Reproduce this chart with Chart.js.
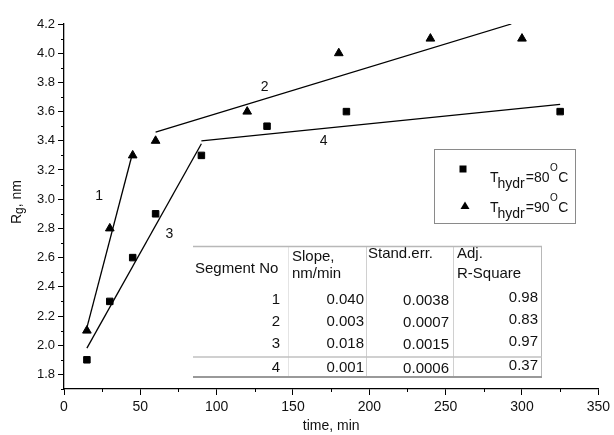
<!DOCTYPE html>
<html>
<head>
<meta charset="utf-8">
<script src="https://cdn.jsdelivr.net/npm/chart.js@4/dist/chart.umd.min.js"></script>
<style>
  html, body { margin: 0; padding: 0; background: #fff; }
  canvas { display: block; }
</style>
</head>
<body>
<canvas id="rgChart" width="614" height="435"></canvas>
<script>
// measured radius of gyration vs hydrolysis time
const time80 = [15, 30, 45, 60, 90, 133, 185, 325];
const rg80 = [1.9, 2.3, 2.6, 2.9, 3.3, 3.5, 3.6, 3.6];
const time90 = [15, 30, 45, 60, 120, 180, 240, 300];
const rg90 = [2.1, 2.8, 3.3, 3.4, 3.6, 4.0, 4.1, 4.1];

// linear fit segments 1..4 (start / end)
const segTime = [[15, 45], [60, 293], [15, 90], [90, 325]];
const segRg = [[2.12, 3.32], [3.46, 4.2], [1.98, 3.38], [3.40, 3.65]];
// where each segment number is written (time, Rg)
const segLabelTime = [23, 131.5, 69, 170];
const segLabelRg = [3.02, 3.77, 2.76, 3.40];

// fit statistics table
const segmentNo = [1, 2, 3, 4];
const slope = [0.040, 0.003, 0.018, 0.001];
const standErr = [0.0038, 0.0007, 0.0015, 0.0006];
const adjR2 = [0.98, 0.83, 0.97, 0.37];

// axis ticks
const timeTicks = [0, 50, 100, 150, 200, 250, 300, 350];
const rgTicks = [1.8, 2.0, 2.2, 2.4, 2.6, 2.8, 3.0, 3.2, 3.4, 3.6, 3.8, 4.0, 4.2];
const timeMinor = [25, 75, 125, 175, 225, 275, 325];
const rgMinor = [1.7, 1.9, 2.1, 2.3, 2.5, 2.7, 2.9, 3.1, 3.3, 3.5, 3.7, 3.9, 4.1];

const FONT = '"Liberation Sans", Arial, sans-serif';
const INK = '#111';

function toPoints(xs, ys) {
  return xs.map((x, i) => ({ x: x, y: ys[i] }));
}

const fitSets = segTime.map((xs, i) => ({
  type: 'line',
  data: toPoints(xs, segRg[i]),
  borderColor: '#000',
  borderWidth: 1.3,
  pointRadius: 0,
  fill: false,
}));

function fixTicks(values) {
  return (scale) => {
    scale.ticks = values.map((v) => ({ value: v }));
  };
}

const extras = {
  id: 'extras',
  afterDraw(chart) {
    const ctx = chart.ctx;
    const xs = chart.scales.x;
    const ys = chart.scales.y;
    const area = chart.chartArea;
    ctx.save();

    // minor ticks
    ctx.strokeStyle = '#000';
    ctx.lineWidth = 1;
    ctx.beginPath();
    timeMinor.forEach((v) => {
      const px = Math.round(xs.getPixelForValue(v)) + 0.5;
      ctx.moveTo(px, area.bottom);
      ctx.lineTo(px, area.bottom + 3);
    });
    rgMinor.forEach((v) => {
      const py = Math.round(ys.getPixelForValue(v)) + 0.5;
      ctx.moveTo(area.left, py);
      ctx.lineTo(area.left - 3, py);
    });
    ctx.stroke();

    // segment numbers
    ctx.fillStyle = INK;
    ctx.font = '14px ' + FONT;
    ctx.textAlign = 'center';
    ctx.textBaseline = 'middle';
    segLabelTime.forEach((t, i) => {
      ctx.fillText(String(segmentNo[i]), xs.getPixelForValue(t), ys.getPixelForValue(segLabelRg[i]));
    });

    // y axis title: R_g, nm
    ctx.save();
    ctx.translate(21, 202);
    ctx.rotate(-Math.PI / 2);
    ctx.textAlign = 'left';
    ctx.textBaseline = 'alphabetic';
    ctx.font = '14px ' + FONT;
    const w1 = ctx.measureText('R').width;
    ctx.font = '12px ' + FONT;
    const w2 = ctx.measureText('g').width;
    ctx.font = '14px ' + FONT;
    const w3 = ctx.measureText(', nm').width;
    let tx = -(w1 + w2 + w3) / 2;
    ctx.fillText('R', tx, 0);
    tx += w1;
    ctx.font = '12px ' + FONT;
    ctx.fillText('g', tx, 2);
    tx += w2;
    ctx.font = '14px ' + FONT;
    ctx.fillText(', nm', tx, 0);
    ctx.restore();

    drawLegend(ctx);
    drawTable(ctx);
    ctx.restore();
  },
};

function drawLegend(ctx) {
  ctx.save();
  ctx.fillStyle = '#fff';
  ctx.fillRect(434, 149, 141, 74);
  ctx.strokeStyle = '#8a8a8a';
  ctx.lineWidth = 1;
  ctx.strokeRect(434.5, 149.5, 141, 74);

  ctx.fillStyle = '#000';
  ctx.fillRect(459.5, 165.5, 7, 7);
  ctx.beginPath();
  ctx.moveTo(465, 201.5);
  ctx.lineTo(469.5, 209);
  ctx.lineTo(460.5, 209);
  ctx.closePath();
  ctx.fill();

  const entries = [['80', 182], ['90', 212]];
  ctx.fillStyle = INK;
  ctx.textAlign = 'left';
  ctx.textBaseline = 'alphabetic';
  entries.forEach(([temp, base]) => {
    let x = 490;
    ctx.font = '14px ' + FONT;
    ctx.fillText('T', x, base);
    x += ctx.measureText('T').width - 1;
    ctx.fillText('hydr', x, base + 6);
    x += ctx.measureText('hydr').width + 1;
    ctx.fillText('=' + temp, x, base);
    x += ctx.measureText('=' + temp).width + 0.5;
    ctx.font = '10px ' + FONT;
    ctx.fillText('O', x, base - 11);
    x += ctx.measureText('O').width + 0.5;
    ctx.font = '14px ' + FONT;
    ctx.fillText('C', x, base);
  });
  ctx.restore();
}

function drawTable(ctx) {
  ctx.save();
  ctx.fillStyle = INK;
  ctx.font = '15px ' + FONT;
  ctx.textBaseline = 'alphabetic';

  ctx.textAlign = 'left';
  ctx.fillText('Segment No', 195, 273);
  ctx.fillText('Slope,', 292, 261);
  ctx.fillText('nm/min', 292, 278);
  ctx.fillText('Stand.err.', 368, 258);
  ctx.fillText('Adj.', 457, 258);
  ctx.fillText('R-Square', 457, 278);

  const rowBase = [304, 326, 348, 372];
  const colRight = [280, 364, 449, 538];
  const colShift = [0, 0, 0.5, -2.5];
  ctx.textAlign = 'right';
  segmentNo.forEach((n, i) => {
    const cells = [String(n), slope[i].toFixed(3), standErr[i].toFixed(4), adjR2[i].toFixed(2)];
    cells.forEach((s, c) => ctx.fillText(s, colRight[c], rowBase[i] + colShift[c]));
  });

  // grid lines
  function hline(y, color, w) {
    ctx.strokeStyle = color;
    ctx.lineWidth = w;
    ctx.beginPath();
    ctx.moveTo(193, y);
    ctx.lineTo(542, y);
    ctx.stroke();
  }
  function vline(x, color) {
    ctx.strokeStyle = color;
    ctx.lineWidth = 1;
    ctx.beginPath();
    ctx.moveTo(x, 247);
    ctx.lineTo(x, 377);
    ctx.stroke();
  }
  vline(288.5, '#e4e4e4');
  vline(366.5, '#d0d0d0');
  vline(453.5, '#d0d0d0');
  vline(541.5, '#b8b8b8');
  hline(246.5, '#b8b8b8', 1.5);
  hline(357, '#c0c0c0', 1.5);
  hline(377, '#999', 2);
  ctx.restore();
}

new Chart(document.getElementById('rgChart'), {
  type: 'scatter',
  data: {
    datasets: [
      ...fitSets,
      {
        label: 'T=80',
        data: toPoints(time80, rg80),
        pointStyle: 'rect',
        pointRadius: 4.6,
        borderWidth: 1,
        backgroundColor: '#000',
        borderColor: '#000',
      },
      {
        label: 'T=90',
        data: toPoints(time90, rg90),
        pointStyle: 'triangle',
        pointRadius: 5,
        borderWidth: 1,
        backgroundColor: '#000',
        borderColor: '#000',
      },
    ],
  },
  options: {
    responsive: false,
    animation: false,
    devicePixelRatio: 1,
    layout: { padding: { left: 0, right: 13, top: 24, bottom: 0 } },
    plugins: {
      legend: { display: false },
      tooltip: { enabled: false },
    },
    scales: {
      x: {
        type: 'linear',
        min: 0,
        max: 350,
        afterBuildTicks: fixTicks(timeTicks),
        afterFit: (s) => { s.height = 46; },
        border: { color: '#000', width: 1.3 },
        grid: { drawOnChartArea: false, drawTicks: true, tickLength: 6, tickColor: '#000' },
        ticks: { color: INK, font: { family: FONT, size: 14 }, padding: 4, maxRotation: 0 },
        title: { display: true, text: 'time, min', color: INK, font: { family: FONT, size: 14 }, padding: 0 },
      },
      y: {
        type: 'linear',
        min: 1.7,
        max: 4.2,
        afterBuildTicks: fixTicks(rgTicks),
        afterFit: (s) => { s.width = 64; },
        border: { color: '#000', width: 1.3 },
        grid: { drawOnChartArea: false, drawTicks: true, tickLength: 6, tickColor: '#000' },
        ticks: {
          color: INK,
          font: { family: FONT, size: 13 },
          padding: 3,
          callback: (v) => v.toFixed(1),
        },
      },
    },
  },
  plugins: [extras],
});
</script>
</body>
</html>
